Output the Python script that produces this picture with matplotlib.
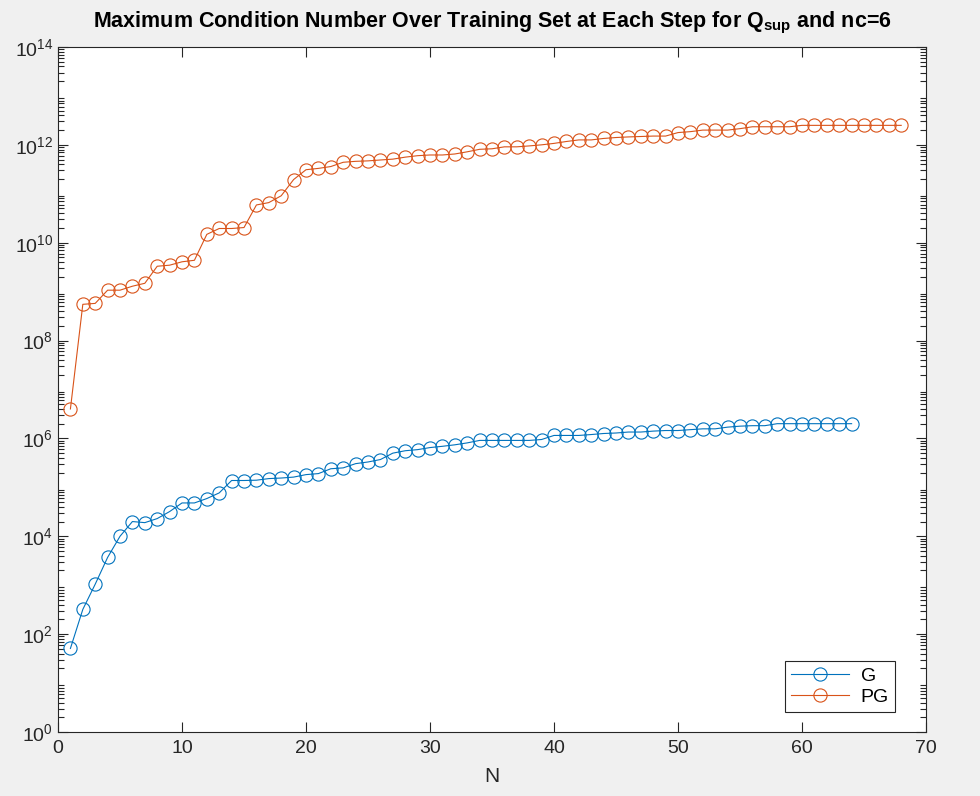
import numpy as np
import matplotlib
matplotlib.use('Agg')
import matplotlib.pyplot as plt
from matplotlib.ticker import LogLocator, NullFormatter, FixedLocator

plt.rcParams['font.family'] = ['Liberation Sans', 'DejaVu Sans']
plt.rcParams['mathtext.fontset'] = 'custom'
plt.rcParams['mathtext.rm'] = 'Liberation Sans'
plt.rcParams['mathtext.bf'] = 'Liberation Sans:bold'
plt.rcParams['mathtext.default'] = 'regular'

# max condition number per step
n_g = list(range(1, 65))
cond_g = [51, 320, 1050, 3700, 1.0e4, 2.0e4, 1.9e4, 2.3e4, 3.2e4, 4.8e4,
          4.8e4, 5.9e4, 7.7e4, 1.38e5, 1.38e5, 1.40e5, 1.51e5, 1.55e5, 1.62e5, 1.82e5,
          1.91e5, 2.4e5, 2.5e5, 3.05e5, 3.3e5, 3.7e5, 5.0e5, 5.6e5, 5.9e5, 6.5e5,
          6.9e5, 7.4e5, 8.1e5, 9.1e5, 9.1e5, 9.1e5, 9.1e5, 9.1e5, 9.5e5, 1.15e6,
          1.15e6, 1.15e6, 1.2e6, 1.26e6, 1.29e6, 1.35e6, 1.35e6, 1.41e6, 1.45e6, 1.45e6,
          1.51e6, 1.57e6, 1.57e6, 1.7e6, 1.78e6, 1.82e6, 1.82e6, 2.0e6, 2.0e6, 2.0e6,
          2.0e6, 2.0e6, 2.0e6, 2.0e6]

n_pg = list(range(1, 69))
cond_pg = [4.0e6, 5.5e8, 5.75e8, 1.07e9, 1.07e9, 1.29e9, 1.48e9, 3.3e9, 3.47e9, 4.07e9,
           4.37e9, 1.48e10, 1.95e10, 1.95e10, 2.04e10, 5.9e10, 6.6e10, 9.1e10, 1.95e11, 3.1e11,
           3.3e11, 3.6e11, 4.4e11, 4.6e11, 4.7e11, 4.9e11, 5.1e11, 5.6e11, 6.0e11, 6.2e11,
           6.2e11, 6.5e11, 7.2e11, 8.1e11, 8.3e11, 9.1e11, 9.1e11, 9.5e11, 1.0e12, 1.07e12,
           1.17e12, 1.26e12, 1.26e12, 1.35e12, 1.41e12, 1.45e12, 1.48e12, 1.51e12, 1.51e12, 1.78e12,
           1.86e12, 2.0e12, 2.0e12, 2.0e12, 2.14e12, 2.34e12, 2.34e12, 2.34e12, 2.34e12, 2.5e12,
           2.5e12, 2.5e12, 2.5e12, 2.5e12, 2.5e12, 2.5e12, 2.5e12, 2.5e12]

blue = '#0072BD'
orange = '#D95319'
axcol = '#262626'

fig = plt.figure(figsize=(9.8, 7.96), dpi=100, facecolor='#F0F0F0')
ax = fig.add_axes([0.0592, 0.0804, 0.8857, 0.8606])

ax.plot(n_g, cond_g, color=blue, lw=0.8, marker='o', ms=9.5, mfc='none', mew=0.8, label='G')
ax.plot(n_pg, cond_pg, color=orange, lw=0.8, marker='o', ms=9.5, mfc='none', mew=0.8, label='PG')

ax.set_yscale('log')
ax.set_xlim(0, 70)
ax.set_ylim(1, 1e14)
ax.set_xticks(range(0, 71, 10))
ax.yaxis.set_major_locator(FixedLocator([10.0**k for k in range(0, 15, 2)]))
ax.yaxis.set_minor_locator(LogLocator(base=10, subs=np.arange(2, 10), numticks=50))
ax.yaxis.set_minor_formatter(NullFormatter())
ax.set_yticklabels(['$10^{%d}$' % k for k in range(0, 15, 2)])

ax.tick_params(axis='both', which='both', direction='in', top=True, right=True,
               colors=axcol, labelsize=14, width=0.8)
ax.tick_params(axis='both', which='major', length=7)
ax.tick_params(axis='y', which='minor', length=4)
ax.tick_params(axis='x', pad=6)
for s in ax.spines.values():
    s.set_color(axcol)
    s.set_linewidth(0.8)

ax.set_xlabel('N', fontsize=15, color=axcol, labelpad=7)
ax.set_title(r'Maximum Condition Number Over Training Set at Each Step for Q$_\mathbf{sup}$ and nc=6',
             fontsize=15.5, fontweight='bold', pad=14)

leg = ax.legend(loc='lower right', bbox_to_anchor=(0.964, 0.029), fontsize=14, fancybox=False,
                framealpha=1, edgecolor=axcol, handlelength=3.0, borderpad=0.3,
                labelspacing=0.2, handletextpad=0.6, borderaxespad=0)
leg.get_frame().set_linewidth(0.8)

fig.savefig('out.png', dpi=100, facecolor=fig.get_facecolor())
